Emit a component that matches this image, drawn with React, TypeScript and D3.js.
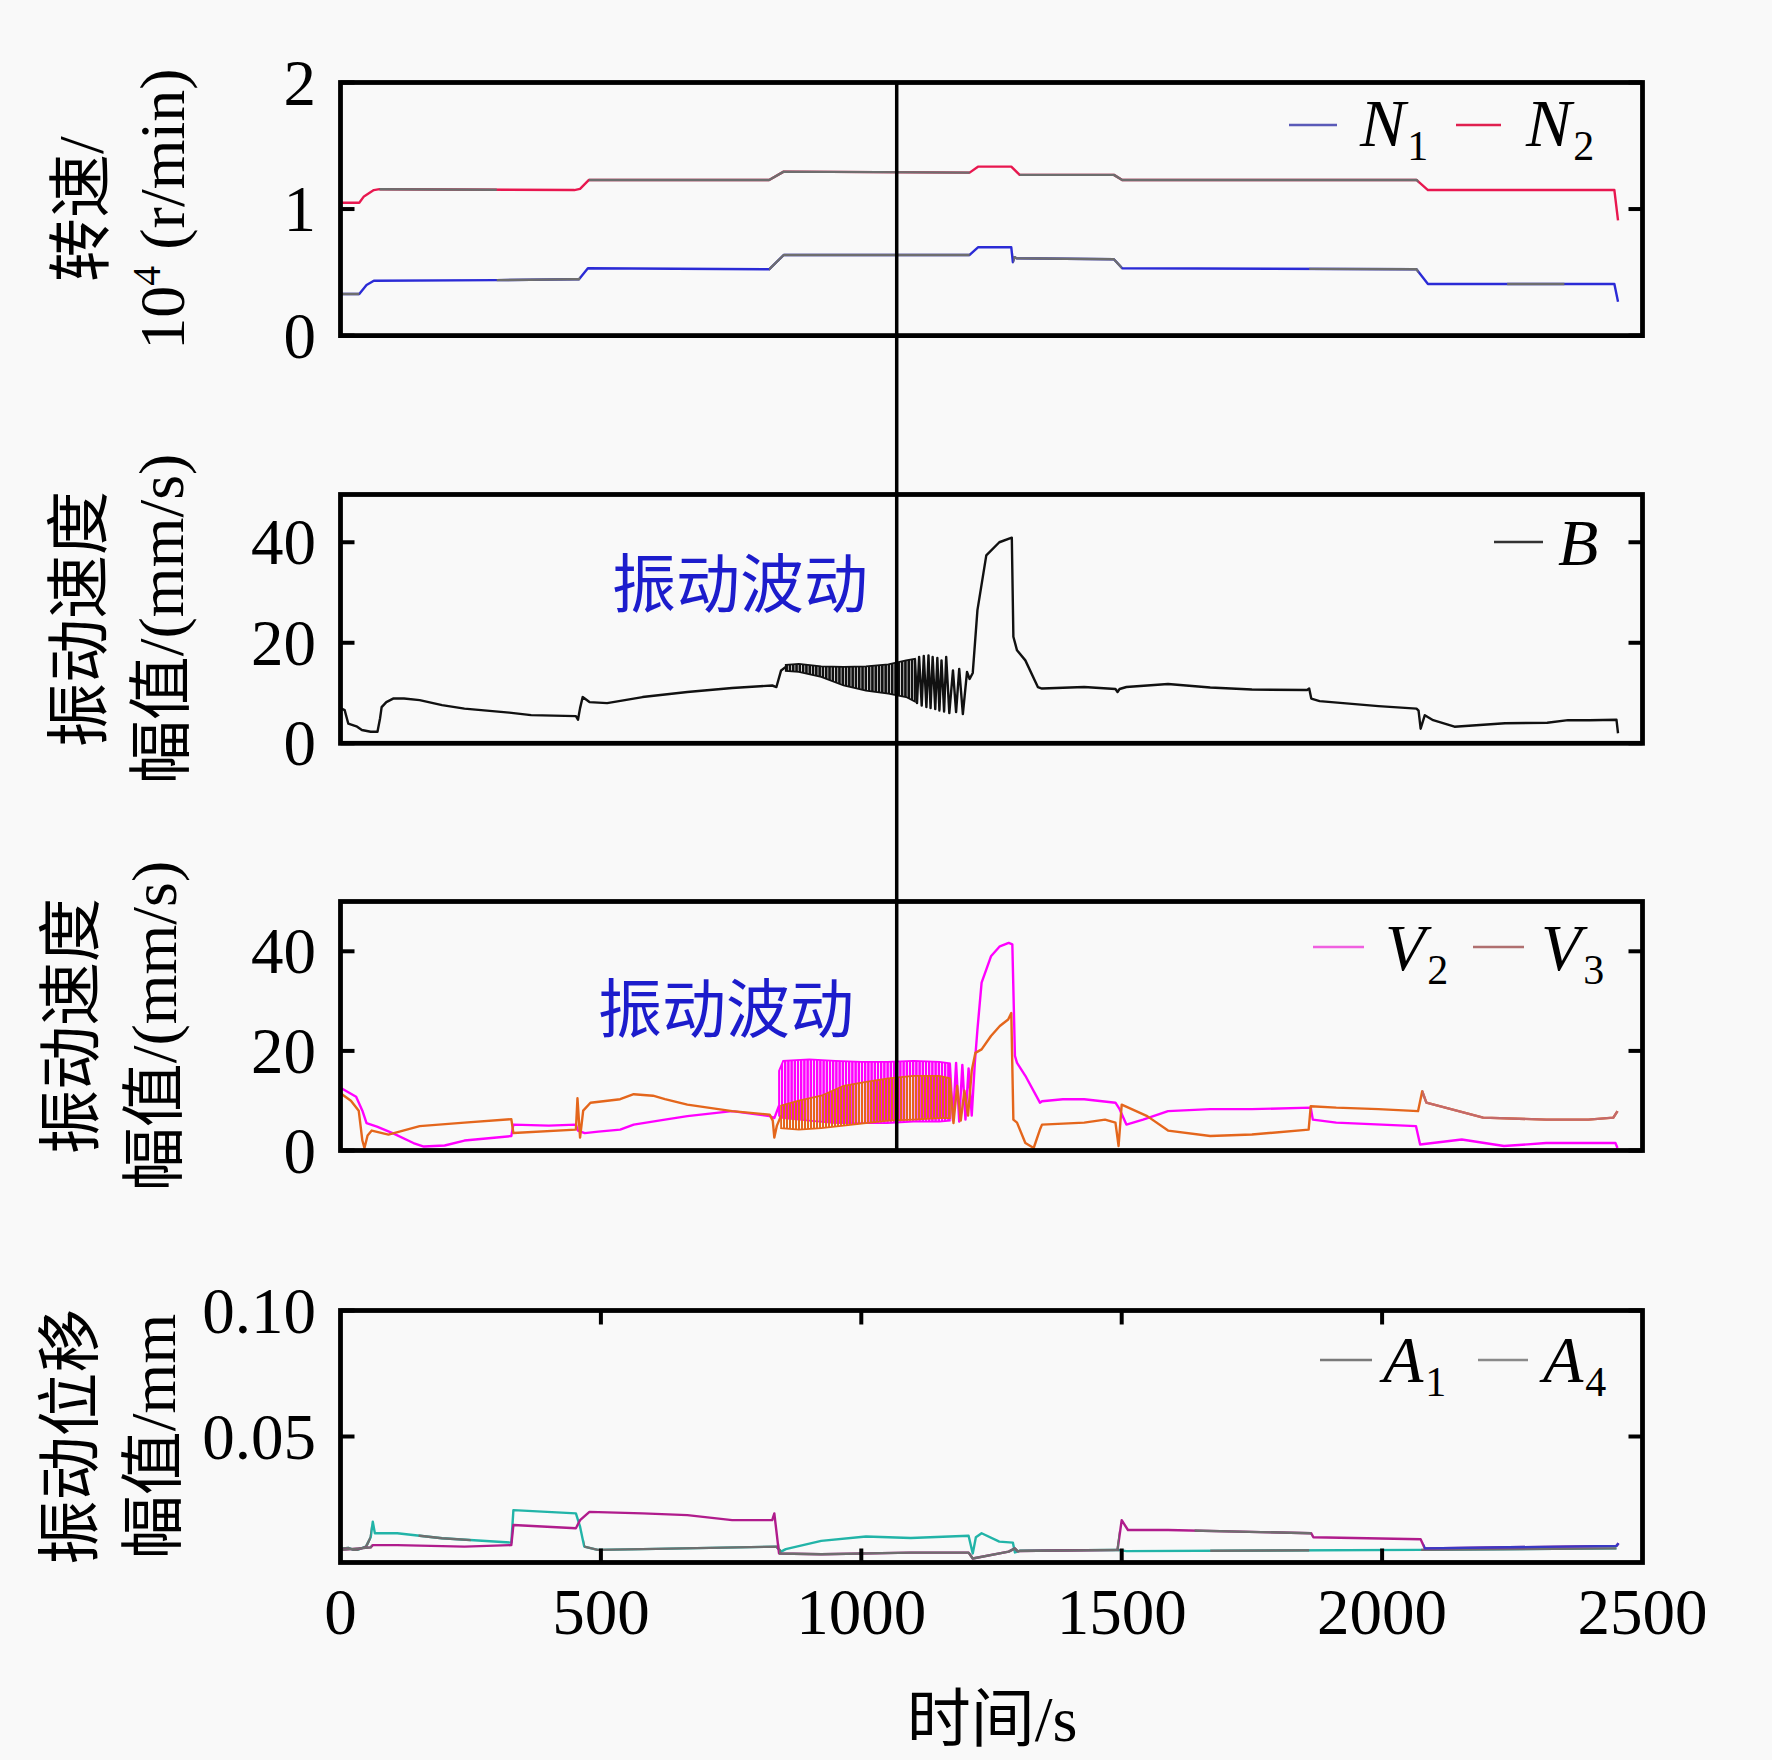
import React from "react";
import * as d3 from "d3";

type P = [number, number];
type B3 = [number, number, number];

// ================= DATA =================
const timeTickValues = [0, 500, 1000, 1500, 2000, 2500];
const innerTimeTicks = [500, 1000, 1500, 2000];
const markerTime = 1068;

// Panel 1: rotational speed (10^4 r/min)
const n1Speed: P[] = [[0,0.329],[36,0.329],[50,0.40],[64,0.434],[300,0.438],[449,0.445],[458,0.445],[475,0.532],[823,0.524],[851,0.637],[1208,0.637],[1224,0.698],[1288,0.698],[1291,0.58],[1294,0.62],[1298,0.611],[1485,0.603],[1501,0.532],[2066,0.524],[2088,0.408],[2446,0.408],[2453,0.268]];
const n2Speed: P[] = [[0,1.05],[36,1.05],[45,1.10],[64,1.15],[75,1.157],[449,1.15],[460,1.16],[477,1.23],[823,1.23],[851,1.296],[1208,1.288],[1224,1.335],[1288,1.335],[1304,1.27],[1485,1.27],[1501,1.23],[2066,1.23],[2088,1.15],[2446,1.15],[2453,0.91]];

// Panel 2: B vibration velocity (mm/s)
const bPre: P[] = [[0,7.0],[8,6.6],[15,3.9],[32,3.3],[41,2.65],[58,2.3],[71,2.3],[76,5.0],[79,7.2],[88,8.2],[101,8.9],[122,8.9],[152,8.6],[195,7.6],[238,6.9],[324,6.1],[366,5.6],[452,5.4],[456,4.7],[460,7.0],[465,9.2],[478,8.2],[512,8.0],[580,9.2],[666,10.2],[752,11.0],[829,11.5],[837,11.2],[846,14.5],[855,15.2]];
const bBand: B3[] = [[855,14.4,15.6],[880,14.2,15.8],[923,13.2,15.3],[966,11.5,15.2],[1009,10.5,15.3],[1052,9.9,15.7],[1086,9.2,16.5],[1103,8.3,16.8]];
const bPost: P[] = [[1103,16.8],[1107,8.0],[1111,17.2],[1116,7.5],[1120,17.4],[1125,7.2],[1129,17.5],[1133,7.0],[1137,17.2],[1142,6.8],[1146,17.0],[1150,6.5],[1154,16.5],[1159,6.3],[1163,17.2],[1169,6.0],[1176,14.5],[1182,6.2],[1188,14.8],[1195,5.8],[1203,14.2],[1208,12.8],[1214,14.0],[1223,26.5],[1240,37.4],[1265,40.0],[1289,40.9],[1292,21.2],[1299,18.5],[1315,16.5],[1339,11.2],[1347,10.9],[1428,11.2],[1488,10.8],[1492,10.2],[1496,10.8],[1509,11.2],[1589,11.8],[1670,11.1],[1750,10.7],[1856,10.6],[1860,10.9],[1864,8.9],[1880,8.4],[1993,7.4],[2066,6.9],[2070,6.5],[2074,2.9],[2082,5.6],[2098,4.6],[2139,3.3],[2236,4.0],[2317,4.1],[2357,4.6],[2398,4.6],[2450,4.7],[2453,2.0]];

// Panel 3: V2 / V3 vibration velocity (mm/s)
const v2Pre: P[] = [[0,12.6],[30,10.8],[42,8.0],[50,5.5],[70,4.8],[100,3.5],[140,1.5],[160,0.8],[200,1.0],[238,2.0],[300,2.6],[328,2.9],[332,5.2],[400,5.0],[452,5.2],[456,4.0],[469,3.5],[495,3.8],[537,4.2],[563,5.2],[623,6.2],[666,6.9],[752,7.9],[824,6.9],[833,6.5],[842,9.0]];
const v2Band: B3[] = [[842,7.0,16.0],[850,6.5,18.0],[900,6.0,18.3],[950,5.5,18.0],[1000,5.5,17.8],[1050,5.5,17.8],[1100,5.8,18.0],[1150,5.8,17.8],[1170,6.0,17.5]];
const v2Post: P[] = [[1170,17.5],[1176,6.0],[1182,17.6],[1188,5.8],[1194,17.2],[1200,6.2],[1206,16.5],[1212,7.0],[1218,17.6],[1223,24.3],[1231,33.7],[1249,39.0],[1266,41.0],[1283,41.7],[1290,41.4],[1295,19.0],[1299,17.6],[1315,15.0],[1343,9.6],[1347,9.9],[1387,10.3],[1428,10.3],[1488,9.6],[1496,8.3],[1509,5.2],[1541,6.2],[1589,7.9],[1670,8.3],[1750,8.3],[1863,8.6],[1867,6.2],[1912,5.6],[2065,4.9],[2073,1.2],[2153,2.2],[2234,0.9],[2315,1.5],[2448,1.5],[2452,0.5]];
const v3Pre: P[] = [[0,11.5],[20,10.0],[35,8.0],[42,2.0],[46,0.5],[52,3.0],[60,4.0],[92,3.2],[152,4.9],[238,5.6],[328,6.3],[332,3.5],[452,4.2],[455,10.5],[460,2.6],[466,8.0],[480,9.6],[537,10.3],[563,11.3],[600,11.0],[623,10.3],[666,9.2],[752,7.9],[824,7.2],[830,6.0],[833,2.6],[838,5.0],[846,7.0]];
const v3Band: B3[] = [[846,4.5,9.0],[880,4.2,10.0],[923,4.5,11.0],[966,5.0,13.0],[1009,5.5,13.8],[1052,6.0,14.5],[1100,6.2,15.0],[1150,6.5,15.0],[1170,6.5,14.5]];
const v3Post: P[] = [[1170,14.5],[1177,5.5],[1184,13.0],[1191,6.0],[1198,12.0],[1205,7.0],[1212,16.0],[1219,19.6],[1231,20.3],[1249,23.0],[1266,25.0],[1282,26.3],[1288,27.6],[1292,6.2],[1299,5.6],[1315,1.5],[1331,0.5],[1343,4.2],[1347,5.2],[1428,5.6],[1468,6.2],[1488,5.6],[1494,0.9],[1500,9.2],[1549,6.9],[1589,4.0],[1670,2.9],[1750,3.2],[1859,4.2],[1863,8.9],[1912,8.6],[1993,8.3],[2069,7.9],[2077,11.9],[2085,9.6],[2194,6.6],[2315,6.2],[2396,6.2],[2444,6.6],[2452,7.9]];

// Panel 4: A1 / A4 vibration displacement (mm)
const a1Disp: P[] = [[0,0.0050],[32,0.0055],[58,0.0060],[62,0.0069],[109,0.0069],[238,0.0063],[328,0.0069],[332,0.0149],[452,0.0136],[460,0.0168],[478,0.0201],[580,0.0195],[666,0.0188],[752,0.0168],[829,0.0168],[833,0.0195],[842,0.0036],[923,0.0033],[1095,0.0039],[1206,0.0039],[1214,0.0016],[1283,0.0043],[1295,0.0056],[1300,0.0045],[1492,0.0050],[1500,0.0168],[1512,0.0129],[1589,0.0129],[1864,0.0116],[1868,0.0100],[2074,0.0092],[2082,0.0056],[2450,0.0066],[2454,0.0076]];
const a4Disp: P[] = [[0,0.0055],[15,0.0058],[25,0.0050],[32,0.0050],[49,0.0063],[58,0.0100],[62,0.0162],[66,0.0116],[109,0.0116],[195,0.0096],[328,0.0079],[332,0.0208],[452,0.0195],[460,0.0142],[468,0.0063],[494,0.0050],[580,0.0053],[837,0.0063],[846,0.0043],[855,0.0053],[923,0.0086],[1009,0.0103],[1095,0.0097],[1206,0.0106],[1214,0.0036],[1220,0.0100],[1231,0.0116],[1265,0.0083],[1291,0.0079],[1295,0.0040],[1305,0.0047],[1492,0.0050],[1509,0.0045],[2074,0.0050],[2450,0.0056]];

// time ranges where the printed traces appear in a different tint
const n1GreyRanges: P[] = [[0,36],[300,460],[823,1208],[1292,1500],[1860,2070],[2240,2350]];
const n2GreyRanges: P[] = [[75,300],[477,1208],[1304,2070]];
const v3TailRanges: P[] = [[2077,2460]];
const a1GreyRanges: P[] = [[0,60],[842,1495],[1640,1864]];
const a1BlueRanges: P[] = [[2080,2460]];
const a4GreyRanges: P[] = [[0,58],[150,250],[468,846],[1300,1495],[1670,1860],[2075,2460]];

// ================= LAYOUT / STYLE =================
const W = 1772, H = 1760;
const X0 = 340.5, X1 = 1642.5;
const SERIF = "'Liberation Serif', 'Times New Roman', serif";
const CJK = "'Noto Sans CJK SC', 'Noto Sans CJK JP', sans-serif";
const GREY = "#6e6e6e";

const x = d3.scaleLinear().domain([0, 2500]).range([X0, X1]);

type Ov = { color: string; ranges: P[] };
type Ser = { line?: P[]; lines?: P[][]; band?: B3[]; color: string; stripe?: number; gap?: number; overlays?: Ov[] };
type LegendItem = { lx0: number; lx1: number; ly: number; tx: number; ty: number; sym: string; sub: string; color: string; fs: number };
type Panel = {
  top: number; bottom: number; domain: [number, number];
  ticks: number[]; labels: string[];
  title1: { text: React.ReactNode; x: number };
  title2: { text: React.ReactNode; x: number };
  series: Ser[];
  legend: LegendItem[];
  xTicks?: boolean;
  note?: { x: number; y: number };
};

const FS = 65;
const cj = (s: string) => <tspan fontFamily={CJK}>{s}</tspan>;
const sr = (s: string) => <tspan fontFamily={SERIF}>{s}</tspan>;

const panels: Panel[] = [
  {
    top: 82.5, bottom: 335.6, domain: [0, 2], ticks: [0, 1, 2], labels: ["0", "1", "2"],
    title1: { text: <>{cj("转速")}{sr("/")}</>, x: 80 },
    title2: { text: <>{sr("10")}<tspan fontFamily={SERIF} fontSize={40} dy={-24}>4</tspan><tspan fontFamily={SERIF} dy={24}>{"\u00a0(r/min)"}</tspan></>, x: 161 },
    series: [
      { line: n1Speed, color: "#2b2bd6", overlays: [{ color: GREY, ranges: n1GreyRanges }] },
      { line: n2Speed, color: "#e8174f", overlays: [{ color: GREY, ranges: n2GreyRanges }] },
    ],
    legend: [
      { lx0: 1289, lx1: 1337, ly: 125, tx: 1360, ty: 146, sym: "N", sub: "1", color: "#5a5ab8", fs: 68 },
      { lx0: 1456, lx1: 1501, ly: 125, tx: 1526, ty: 146, sym: "N", sub: "2", color: "#e0204f", fs: 68 },
    ],
  },
  {
    top: 494.5, bottom: 743.3, domain: [0, 49.5], ticks: [0, 20, 40], labels: ["0", "20", "40"],
    title1: { text: cj("振动速度"), x: 78 },
    title2: { text: <>{cj("幅值")}{sr("/(mm/s)")}</>, x: 160 },
    series: [{ lines: [bPre, bPost], band: bBand, color: "#111111", stripe: 2.6, gap: 0.7 }],
    legend: [{ lx0: 1494, lx1: 1543, ly: 542, tx: 1558, ty: 565, sym: "B", sub: "", color: "#333333", fs: 66 }],
    note: { x: 740, y: 607 },
  },
  {
    top: 901.5, bottom: 1150.5, domain: [0, 50], ticks: [0, 20, 40], labels: ["0", "20", "40"],
    title1: { text: cj("振动速度"), x: 70 },
    title2: { text: <>{cj("幅值")}{sr("/(mm/s)")}</>, x: 153 },
    series: [
      { lines: [v2Pre, v2Post], band: v2Band, color: "#ff00ff", stripe: 2.4, gap: 0.8 },
      { lines: [v3Pre, v3Post], band: v3Band, color: "#e4661c", stripe: 2.0, gap: 1.0, overlays: [{ color: "#c46a6a", ranges: v3TailRanges }] },
    ],
    legend: [
      { lx0: 1313, lx1: 1364, ly: 947, tx: 1385, ty: 970, sym: "V", sub: "2", color: "#f060e0", fs: 66 },
      { lx0: 1473, lx1: 1524, ly: 947, tx: 1541, ty: 970, sym: "V", sub: "3", color: "#b07070", fs: 66 },
    ],
    note: { x: 726, y: 1032 },
  },
  {
    top: 1310.5, bottom: 1562.5, domain: [0, 0.1], ticks: [0.05, 0.1], labels: ["0.05", "0.10"],
    title1: { text: cj("振动位移"), x: 69 },
    title2: { text: <>{cj("幅值")}{sr("/mm")}</>, x: 152 },
    series: [
      { line: a4Disp, color: "#22b4a8", overlays: [{ color: GREY, ranges: a4GreyRanges }] },
      { line: a1Disp, color: "#b01c8c", overlays: [{ color: GREY, ranges: a1GreyRanges }, { color: "#3a3ac4", ranges: a1BlueRanges }] },
    ],
    legend: [
      { lx0: 1320, lx1: 1372, ly: 1360, tx: 1383, ty: 1382, sym: "A", sub: "1", color: "#7a7a7a", fs: 66 },
      { lx0: 1478, lx1: 1528, ly: 1360, tx: 1543, ty: 1382, sym: "A", sub: "4", color: "#8a8a8a", fs: 66 },
    ],
    xTicks: true,
  },
];

function PanelView({ p, idx }: { p: Panel; idx: number }) {
  const y = d3.scaleLinear().domain(p.domain).range([p.bottom, p.top]);
  const line = d3.line<P>().x((d) => x(d[0])).y((d) => y(d[1]));
  const area = d3.area<B3>().x((d) => x(d[0])).y0((d) => y(d[1])).y1((d) => y(d[2]));
  const cy = (p.top + p.bottom) / 2;
  const tickLen = 14;
  return (
    <g>
      <defs>
        {p.series.map((s, si) =>
          (s.overlays || []).map((o, oi) => (
            <clipPath key={`c${si}-${oi}`} id={`clip-${idx}-${si}-${oi}`}>
              {o.ranges.map((r, ri) => (
                <rect key={ri} x={x(r[0])} y={p.top - 20} width={x(r[1]) - x(r[0])} height={p.bottom - p.top + 40} />
              ))}
            </clipPath>
          ))
        )}
        {p.series.map((s, si) =>
          s.band ? (
            <pattern key={`p${si}`} id={`pat-${idx}-${si}`} patternUnits="userSpaceOnUse" width={(s.stripe || 2) + (s.gap || 1)} height={20}>
              <rect x={0} y={0} width={s.stripe || 2} height={20} fill={s.color} />
            </pattern>
          ) : null
        )}
      </defs>
      {/* data */}
      {p.series.map((s, si) => {
        const paths = s.line ? [s.line] : s.lines || [];
        return (
          <g key={si}>
            {s.band && (
              <path d={area(s.band) || ""} fill={`url(#pat-${idx}-${si})`} stroke={s.color} strokeWidth={1.8} />
            )}
            {paths.map((ps, pi) => (
              <path key={pi} d={line(ps) || ""} fill="none" stroke={s.color} strokeWidth={2.4} strokeLinejoin="round" />
            ))}
            {(s.overlays || []).map((o, oi) => (
              <g key={oi} clipPath={`url(#clip-${idx}-${si}-${oi})`}>
                {paths.map((ps, pi) => (
                  <path key={pi} d={line(ps) || ""} fill="none" stroke={o.color} strokeWidth={2.4} strokeLinejoin="round" />
                ))}
              </g>
            ))}
          </g>
        );
      })}
      {/* frame */}
      <rect x={X0} y={p.top} width={X1 - X0} height={p.bottom - p.top} fill="none" stroke="#000" strokeWidth={4.8} />
      {/* y ticks */}
      {p.ticks.map((t, i) => (
        <g key={i}>
          <line x1={X0} x2={X0 + tickLen} y1={y(t)} y2={y(t)} stroke="#000" strokeWidth={4} />
          <line x1={X1 - tickLen} x2={X1} y1={y(t)} y2={y(t)} stroke="#000" strokeWidth={4} />
          <text x={316} y={y(t) + 22} textAnchor="end" fontFamily={SERIF} fontSize={FS} fill="#000">
            {p.labels[i]}
          </text>
        </g>
      ))}
      {/* x ticks (inner) */}
      {p.xTicks &&
        innerTimeTicks.map((t) => (
          <g key={t}>
            <line x1={x(t)} x2={x(t)} y1={p.top} y2={p.top + tickLen} stroke="#000" strokeWidth={4} />
            <line x1={x(t)} x2={x(t)} y1={p.bottom - tickLen} y2={p.bottom} stroke="#000" strokeWidth={4} />
          </g>
        ))}
      {/* titles */}
      <text transform={`translate(${p.title1.x + 23},${cy}) rotate(-90)`} textAnchor="middle" fontSize={64} fill="#000">
        {p.title1.text}
      </text>
      <text transform={`translate(${p.title2.x + 23},${cy}) rotate(-90)`} textAnchor="middle" fontSize={64} fill="#000">
        {p.title2.text}
      </text>
      {/* legend */}
      {p.legend.map((l, i) => (
        <g key={i}>
          <line x1={l.lx0} x2={l.lx1} y1={l.ly} y2={l.ly} stroke={l.color} strokeWidth={2.5} />
          <text x={l.tx} y={l.ty} fontFamily={SERIF} fontSize={l.fs} fill="#000">
            <tspan fontStyle="italic">{l.sym}</tspan>
            {l.sub && (
              <tspan fontSize={42} dy={14} dx={2}>
                {l.sub}
              </tspan>
            )}
          </text>
        </g>
      ))}
      {p.note && (
        <text x={p.note.x} y={p.note.y} textAnchor="middle" fontFamily={CJK} fontSize={64} fill="#1c1ccc">
          振动波动
        </text>
      )}
    </g>
  );
}

export default function App() {
  const p1 = panels[0], p3 = panels[2];
  return (
    <svg
      width={W}
      height={H}
      viewBox={`0 0 ${W} ${H}`}
      style={{ position: "absolute", left: 0, top: 0, background: "#f9f9f9" }}
      xmlns="http://www.w3.org/2000/svg"
    >
      <rect x={0} y={0} width={W} height={H} fill="#f9f9f9" />
      {panels.map((p, i) => (
        <PanelView key={i} p={p} idx={i} />
      ))}
      {/* marker line */}
      <line x1={x(markerTime)} x2={x(markerTime)} y1={p1.top} y2={p3.bottom} stroke="#000" strokeWidth={3.5} />
      {/* x tick labels */}
      {timeTickValues.map((t) => (
        <text key={t} x={x(t)} y={1634} textAnchor="middle" fontFamily={SERIF} fontSize={FS} fill="#000">
          {t}
        </text>
      ))}
      <text x={992} y={1741} textAnchor="middle" fontSize={64} fill="#000">
        {cj("时间")}
        {sr("/s")}
      </text>
    </svg>
  );
}
